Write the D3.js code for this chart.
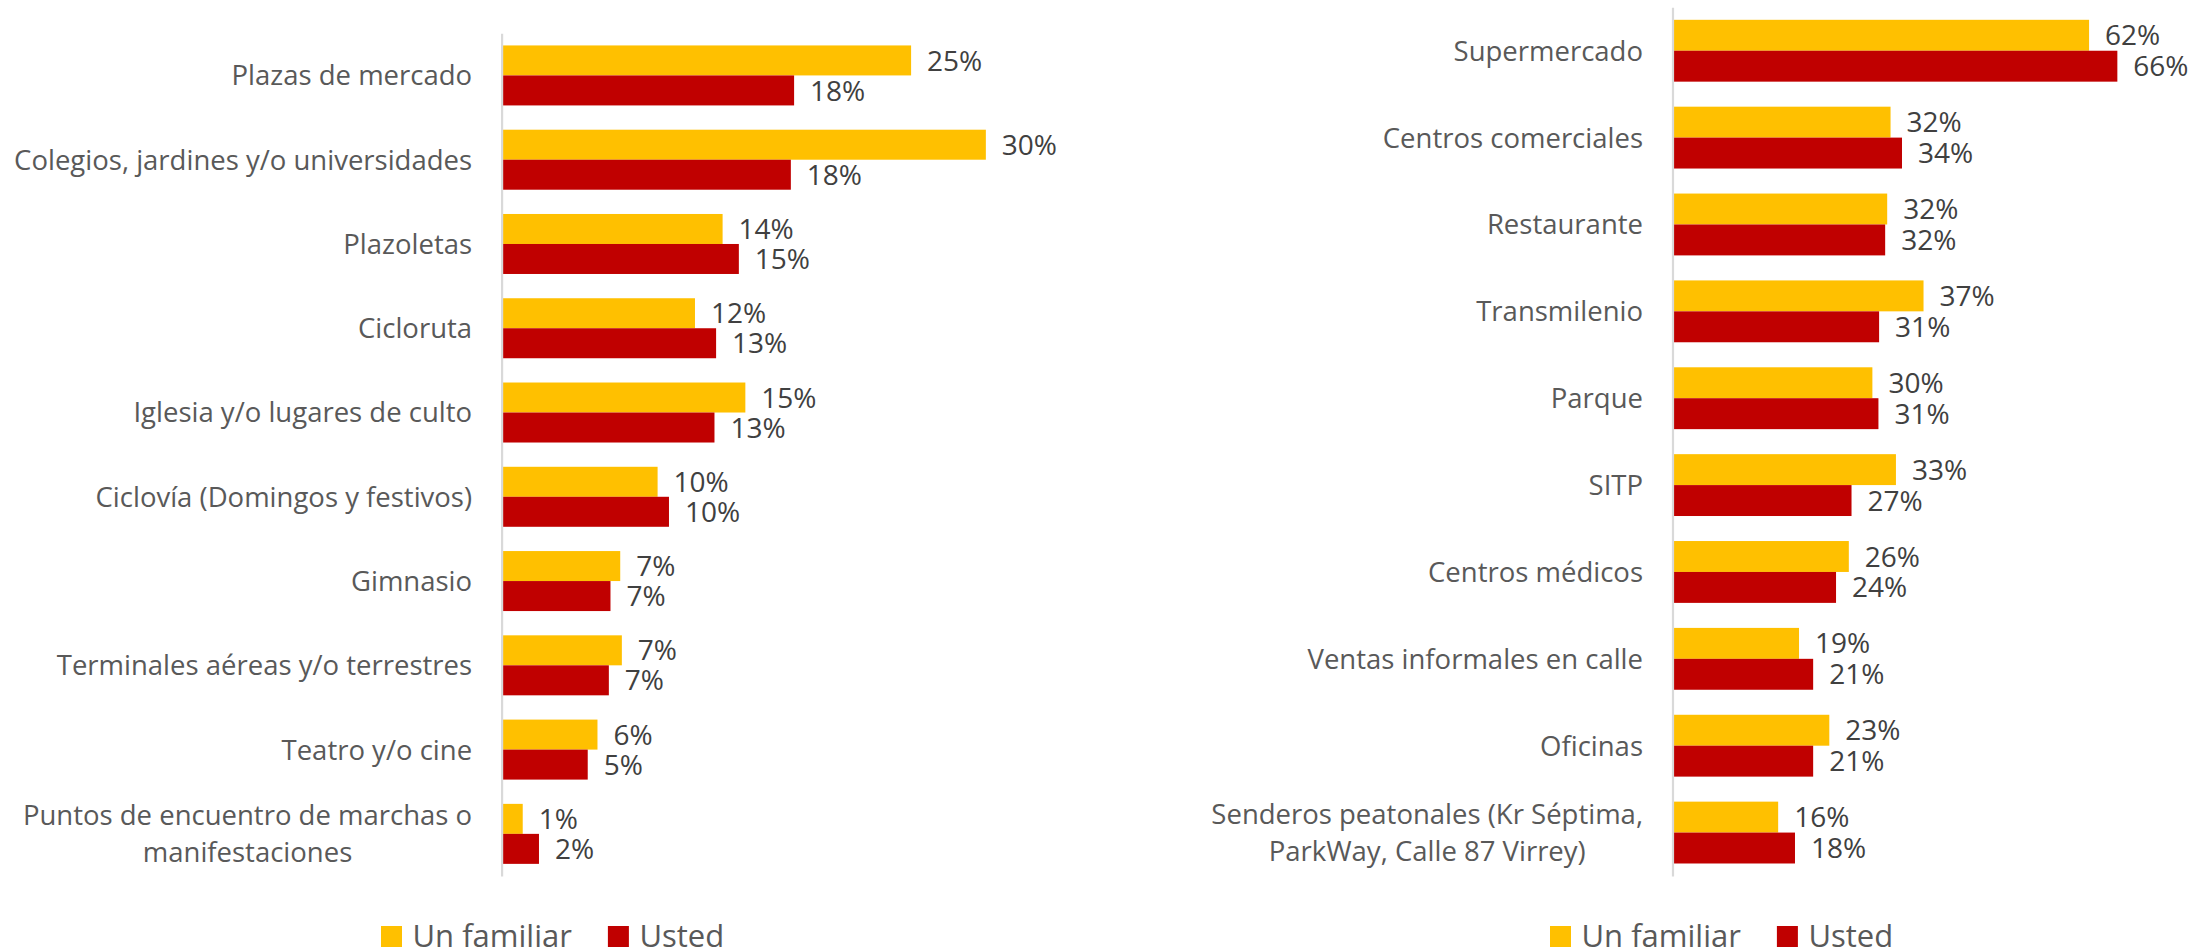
<!DOCTYPE html>
<html><head><meta charset="utf-8">
<script src="https://cdn.jsdelivr.net/npm/d3@7"></script>
<style>body{margin:0;background:#fff;} svg{display:block;font-family:"Open Sans",sans-serif;}</style>
</head><body><svg id="c" width="2192" height="951"></svg>
<script>
const seriesNames = ["Un familiar", "Usted"];
const seriesColors = ["#FFC000", "#C00000"];

const leftCategories = [
  "Plazas de mercado",
  "Colegios, jardines y/o universidades",
  "Plazoletas",
  "Cicloruta",
  "Iglesia y/o lugares de culto",
  "Ciclovía (Domingos y festivos)",
  "Gimnasio",
  "Terminales aéreas y/o terrestres",
  "Teatro y/o cine",
  "Puntos de encuentro de marchas o manifestaciones"
];
const leftFamiliar = [0.252, 0.298, 0.136, 0.119, 0.150, 0.096, 0.073, 0.074, 0.059, 0.013];
const leftUsted    = [0.180, 0.178, 0.146, 0.132, 0.131, 0.103, 0.067, 0.066, 0.053, 0.023];

const rightCategories = [
  "Supermercado",
  "Centros comerciales",
  "Restaurante",
  "Transmilenio",
  "Parque",
  "SITP",
  "Centros médicos",
  "Ventas informales en calle",
  "Oficinas",
  "Senderos peatonales (Kr Séptima, ParkWay, Calle 87 Virrey)"
];
const rightFamiliar = [0.619, 0.324, 0.319, 0.373, 0.297, 0.332, 0.262, 0.188, 0.233, 0.157];
const rightUsted    = [0.661, 0.341, 0.316, 0.307, 0.306, 0.266, 0.243, 0.209, 0.209, 0.182];

const svg = d3.select("#c");
const fmt = v => Math.round(v * 100) + "%";

function drawChart(cfg) {
  const g = svg.append("g");
  const x = d3.scaleLinear().domain([0, cfg.xMax]).range([cfg.x0, cfg.x0 + cfg.xMax * 100 * cfg.pxPerPct]);
  const y = d3.scaleBand().domain(cfg.categories).range([cfg.yTop, cfg.yBottom])
    .paddingInner(0.288).paddingOuter(0.144);
  const ys = d3.scaleBand().domain(seriesNames).range([0, y.bandwidth()]);

  const rows = cfg.categories.map((c, i) => ({cat: c, vals: [cfg.s1[i], cfg.s2[i]]}));

  const grp = g.selectAll("g.cat").data(rows).join("g")
    .attr("transform", d => `translate(0,${y(d.cat)})`);
  grp.selectAll("rect").data(d => d.vals.map((v, k) => ({v, k}))).join("rect")
    .attr("x", x(0))
    .attr("y", d => ys(seriesNames[d.k]))
    .attr("width", d => x(d.v) - x(0))
    .attr("height", ys.bandwidth())
    .attr("fill", d => seriesColors[d.k]);
  grp.selectAll("text.val").data(d => d.vals.map((v, k) => ({v, k}))).join("text")
    .attr("class", "val")
    .attr("x", d => x(d.v) + 16)
    .attr("y", d => ys(seriesNames[d.k]) + ys.bandwidth() / 2)
    .attr("dy", "0.36em")
    .attr("font-size", 28)
    .attr("fill", "#404040")
    .text(d => fmt(d.v));

  // axis
  const ax = g.append("g").attr("transform", `translate(${x(0)},0)`)
    .call(d3.axisLeft(y).tickSize(0).tickSizeOuter(0).tickPadding(29.5));
  ax.select(".domain").attr("stroke", "#D9D9D9").attr("stroke-width", 2.2);
  ax.selectAll(".tick text").each(function(d) {
    const t = d3.select(this);
    t.attr("font-family", "'Open Sans', sans-serif").attr("font-size", 27.5).attr("fill", "#595959");
    const words = d.split(" ");
    const lines = [];
    let cur = "";
    t.text("");
    const probe = t.append("tspan");
    words.forEach(w => {
      const test = cur ? cur + " " + w : w;
      probe.text(test);
      if (probe.node().getComputedTextLength() > cfg.wrap && cur) { lines.push(cur); cur = w; }
      else cur = test;
    });
    lines.push(cur);
    probe.remove();
    if (lines.length === 1) {
      t.text(lines[0]).attr("dy", "0.36em");
    } else {
      const lh = 37;
      const widths = lines.map(l => { const sp = t.append("tspan").text(l); const w = sp.node().getComputedTextLength(); sp.remove(); return w; });
      const bw = d3.max(widths);
      const cx = -29.5 - bw / 2;
      t.attr("text-anchor", "middle").attr("dy", null);
      lines.forEach((l, i) => {
        t.append("tspan").attr("x", cx)
          .attr("y", (i - (lines.length - 1) / 2) * lh)
          .attr("dy", "0.36em").text(l);
      });
    }
  });

  // legend
  const lg = g.append("g");
  let lx = cfg.legendX;
  seriesNames.forEach((s, k) => {
    lg.append("rect").attr("x", lx).attr("y", 926).attr("width", 21).attr("height", 21).attr("fill", seriesColors[k]);
    const tx = lg.append("text").attr("x", lx + 31.5).attr("y", 946.5)
      .attr("font-size", 31).attr("fill", "#595959").text(s);
    lx += 31.5 + tx.node().getComputedTextLength() + 36;
  });
}

drawChart({categories: leftCategories, s1: leftFamiliar, s2: leftUsted,
  x0: 501.6, pxPerPct: 16.25, xMax: 0.35, yTop: 33.3, yBottom: 876, wrap: 490, legendX: 381});
drawChart({categories: rightCategories, s1: rightFamiliar, s2: rightUsted,
  x0: 1672.5, pxPerPct: 6.73, xMax: 0.70, yTop: 7.3, yBottom: 876, wrap: 490, legendX: 1550});
</script>
</body></html>
